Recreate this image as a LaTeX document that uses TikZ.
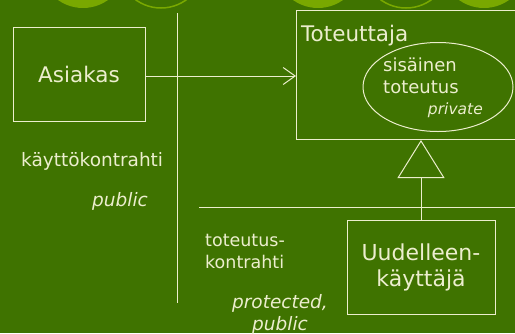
\documentclass[tikz,border=0pt]{standalone}
\usepackage{fontspec}
\setmainfont{DejaVu Sans}
\usepackage{xcolor}
\usepackage{tikz}
\usetikzlibrary{shapes,positioning,calc,arrows.meta}
\definecolor{slidegreen}{RGB}{63,115,0}
\definecolor{dotgreen}{RGB}{121,168,0}
\definecolor{chalk}{RGB}{236,238,206}

\begin{document}
\begin{tikzpicture}[x=1pt, y=-1pt,
        block/.style={draw=chalk, line width=1pt, rectangle, align=center, text=chalk},
        lbl/.style={text=chalk, inner sep=0pt, align=left},
        wire/.style={draw=chalk, line width=1pt}
    ]
        \useasboundingbox (0,0) rectangle (515,333);
        \clip (0,0) rectangle (515,333);
        \fill[slidegreen] (0,0) rectangle (515,333);

        % slide decoration along the top edge
        \foreach \cx in {83,318,484} \fill[dotgreen] (\cx,-35) circle (43pt);
        \foreach \cx in {161,406} \draw[dotgreen, line width=1.5pt] (\cx,-35) circle (43pt);

        \node [block, minimum width=132, minimum height=94, font=\fontsize{21.5}{25}\selectfont] (asiakas) at (79,74) {Asiakas};
        \node [block, anchor=north west, minimum width=240, minimum height=129] (tot) at (296,10) {};
        \node [lbl, anchor=base west, font=\fontsize{21.5}{25}\selectfont] (totname) at (301,41) {Toteuttaja};
        \node [draw=chalk, line width=1pt, ellipse, minimum width=150, minimum height=89] (impl) at (438,87) {};
        \node [lbl, anchor=base west, font=\fontsize{18}{22}\selectfont] (impltext) at (383,93) {sisäinen\\toteutus};
        \node [lbl, anchor=base east, font=\itshape\fontsize{15.5}{18}\selectfont] (priv) at (483,114) {private};
        \node [block, minimum width=148, minimum height=94, font=\fontsize{22}{26}\selectfont] (reuse) at (421,267) {Uudelleen-\\käyttäjä};

        \node [lbl, anchor=base west, font=\fontsize{18.5}{21}\selectfont] (usectr) at (21,166) {käyttökontrahti};
        \node [lbl, anchor=base west, font=\itshape\fontsize{18.5}{22}\selectfont] (usevis) at (92,206) {public};
        \node [lbl, anchor=base west, font=\fontsize{17.5}{22}\selectfont] (implctr) at (205,268) {toteutus-\\kontrahti};
        \node [lbl, anchor=base, align=center, font=\itshape\fontsize{18.5}{22}\selectfont] (implvis) at (280,330) {protected,\\public};

        \coordinate (vtop) at (177,13);
        \coordinate (vbot) at (177,303);
        \coordinate (hleft) at (199,207);
        \coordinate (hright) at (515,207);

        \draw [wire] (vtop) -- (vbot);
        \draw [wire] (hleft) -- (hright);
        \draw [wire, -{Straight Barb[length=12pt, width=17pt]}] ([yshift=-2pt]asiakas.east) -- ([yshift=-2pt]asiakas.east -| tot.west);
        \draw [wire, -{Triangle[open, length=38pt, width=47pt]}] (reuse.north) -- (reuse.north |- tot.south); % inheritance
    \end{tikzpicture}
\end{document}
